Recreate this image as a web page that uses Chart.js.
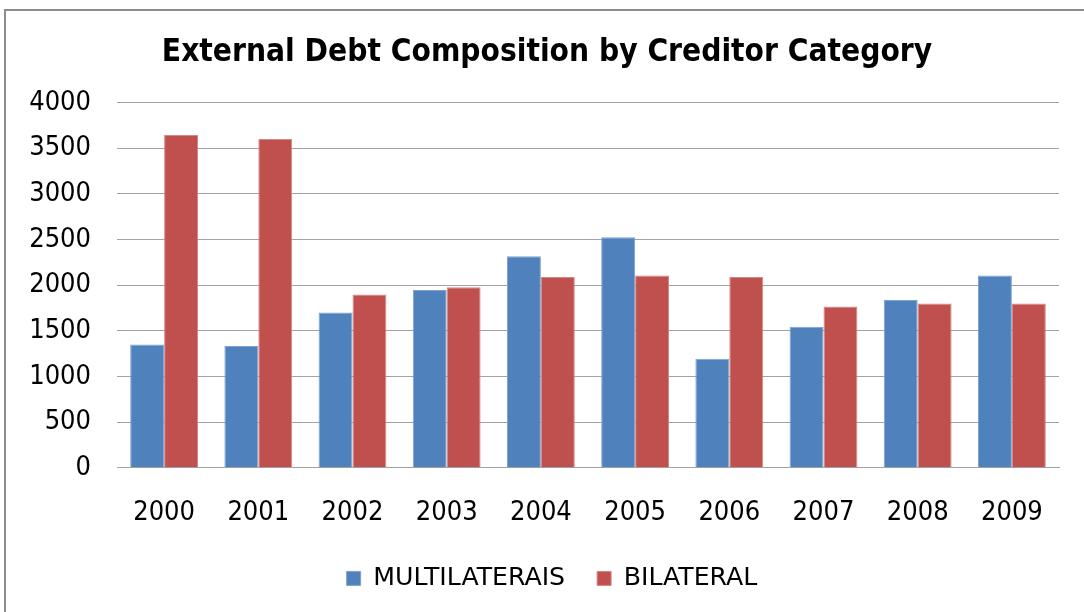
<!DOCTYPE html>
<html>
<head>
<meta charset="utf-8">
<script src="https://cdn.jsdelivr.net/npm/chart.js@4"></script>
<style>
html, body { margin: 0; padding: 0; background: #fff; overflow: hidden; }
#frame { position: absolute; left: 4px; top: 9px; width: 1100px; height: 620px; border: 2px solid #8c8c8c; }
#wrap { position: absolute; left: 0; top: 0; width: 1084px; height: 612px; }
</style>
</head>
<body>
<div id="frame"></div>
<div id="wrap"><canvas id="debtChart" width="1084" height="612"></canvas></div>
<script>
/* ===== data ===== */
const years = ["2000","2001","2002","2003","2004","2005","2006","2007","2008","2009"];
const multilaterais = [1352, 1333, 1702, 1949, 2317, 2525, 1195, 1544, 1839, 2106];
const bilateral = [3647, 3603, 1898, 1978, 2091, 2106, 2091, 1767, 1800, 1800];
const yTicks = [0, 500, 1000, 1500, 2000, 2500, 3000, 3500, 4000];

const tickFont = { family: "DejaVu Sans Condensed", size: 27 };
const gridGray = "#a3a3a3";

/* title and legend sit a bit right of the canvas centre, like the Excel original */
const shiftBoxes = {
    id: "shiftBoxes",
    afterLayout(chart) {
        if (chart.titleBlock) chart.titleBlock.left = 35;
        if (chart.legend) chart.legend.left = 45;
    }
};

new Chart(document.getElementById("debtChart"), {
    type: "bar",
    data: {
        labels: years,
        datasets: [
            {
                label: "MULTILATERAIS",
                data: multilaterais,
                backgroundColor: "#4F81BD",
                borderColor: "#7EA1CF",
                borderWidth: 1
            },
            {
                label: "BILATERAL",
                data: bilateral,
                backgroundColor: "#C0504D",
                borderColor: "#D58785",
                borderWidth: 1
            }
        ]
    },
    options: {
        responsive: false,
        animation: false,
        layout: { padding: { left: 10, right: 25, top: 0, bottom: 11 } },
        datasets: { bar: { categoryPercentage: 0.72, barPercentage: 1.0 } },
        plugins: {
            tooltip: { enabled: false },
            title: {
                display: true,
                text: "External Debt Composition by Creditor Category",
                color: "#000",
                font: { family: "DejaVu Sans Condensed", size: 31.4, weight: "bold" },
                padding: { top: 34, bottom: 31 }
            },
            legend: {
                position: "bottom",
                labels: {
                    color: "#000",
                    font: { family: "DejaVu Sans", size: 25.2 },
                    boxWidth: 14,
                    boxHeight: 14,
                    padding: 32
                }
            }
        },
        scales: {
            x: {
                grid: { display: false, drawTicks: false },
                border: { display: true, color: gridGray },
                ticks: { color: "#000", font: tickFont, padding: 29, maxRotation: 0 },
                afterFit: function (scale) { scale.height = 66; }
            },
            y: {
                min: yTicks[0],
                max: yTicks[yTicks.length - 1],
                grid: { color: gridGray, drawTicks: false },
                border: { display: false },
                ticks: {
                    color: "#000",
                    font: tickFont,
                    padding: 26,
                    stepSize: yTicks[1] - yTicks[0],
                    callback: value => String(value)
                },
                afterFit: function (scale) { scale.width = 107; }
            }
        }
    },
    plugins: [shiftBoxes]
});
</script>
</body>
</html>
